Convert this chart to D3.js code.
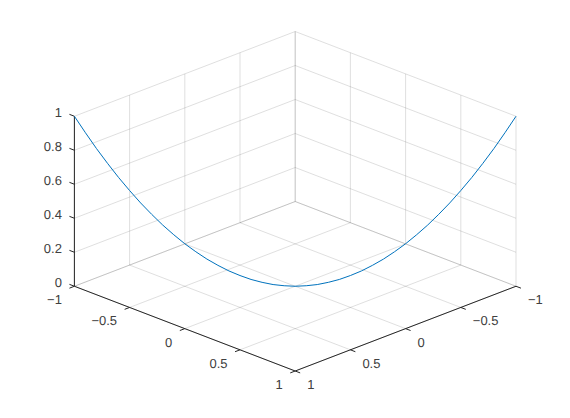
<!DOCTYPE html>
<html>
<head>
<meta charset="utf-8">
<script src="https://cdn.jsdelivr.net/npm/d3@7"></script>
<style>
html,body{margin:0;padding:0;background:#fff;}
svg{display:block;}
text{font-family:"Liberation Sans",Arial,sans-serif;font-size:13px;fill:#404040;text-rendering:geometricPrecision;}
</style>
</head>
<body>
<svg id="chart" width="570" height="418"></svg>
<script>
// Data
const floorTicks = [-1, -0.5, 0, 0.5, 1];
const zTicks = [0, 0.2, 0.4, 0.6, 0.8, 1];
const curveA = [-1,-0.95,-0.9,-0.85,-0.8,-0.75,-0.7,-0.65,-0.6,-0.55,-0.5,-0.45,-0.4,-0.35,-0.3,-0.25,-0.2,-0.15,-0.1,-0.05,0,0.05,0.1,0.15,0.2,0.25,0.3,0.35,0.4,0.45,0.5,0.55,0.6,0.65,0.7,0.75,0.8,0.85,0.9,0.95,1];
const curveB = [1,0.95,0.9,0.85,0.8,0.75,0.7,0.65,0.6,0.55,0.5,0.45,0.4,0.35,0.3,0.25,0.2,0.15,0.1,0.05,0,-0.05,-0.1,-0.15,-0.2,-0.25,-0.3,-0.35,-0.4,-0.45,-0.5,-0.55,-0.6,-0.65,-0.7,-0.75,-0.8,-0.85,-0.9,-0.95,-1];
const curveZ = [1,0.903,0.81,0.723,0.64,0.563,0.49,0.423,0.36,0.303,0.25,0.203,0.16,0.123,0.09,0.063,0.04,0.023,0.01,0.003,0,0.003,0.01,0.023,0.04,0.063,0.09,0.123,0.16,0.203,0.25,0.303,0.36,0.423,0.49,0.563,0.64,0.723,0.81,0.903,1];

const svg = d3.select("#chart");
// Isometric view: a runs along the front-left edge, b along the front-right edge
const sx = d3.scaleLinear().domain([-2, 2]).range([74.4, 516]);
const sy = d3.scaleLinear().domain([-2, 2]).range([201.5, 371]);
const sz = d3.scaleLinear().domain([0, 1]).range([0, -170]);
const px = (a, b) => sx(a - b);
const py = (a, b, z) => sy(a + b) + sz(z);

const gridColor = "rgba(38,38,38,0.15)";
const axisColor = "#262626";
const g = svg.append("g");
function seg(a1, b1, z1, a2, b2, z2, color) {
  g.append("line")
    .attr("x1", px(a1, b1)).attr("y1", py(a1, b1, z1))
    .attr("x2", px(a2, b2)).attr("y2", py(a2, b2, z2))
    .attr("stroke", color).attr("stroke-width", 1);
}
// floor grid
floorTicks.forEach(t => {
  seg(t, -1, 0, t, 1, 0, gridColor);
  seg(-1, t, 0, 1, t, 0, gridColor);
});
// back walls
floorTicks.forEach(t => {
  seg(t, -1, 0, t, -1, 1, gridColor);
  seg(-1, t, 0, -1, t, 1, gridColor);
});
zTicks.forEach(z => {
  seg(-1, -1, z, 1, -1, z, gridColor);
  seg(-1, -1, z, -1, 1, z, gridColor);
});
// axes
seg(-1, 1, 0, 1, 1, 0, axisColor);
seg(1, -1, 0, 1, 1, 0, axisColor);
seg(-1, 1, 0, -1, 1, 1, axisColor);
// ticks: extended outward along the crossing grid direction
const tl = 0.045;
floorTicks.forEach(t => {
  seg(t, 1, 0, t, 1 + tl, 0, axisColor);
  seg(1, t, 0, 1 + tl, t, 0, axisColor);
});
zTicks.forEach(z => seg(-1, 1, z, -1 - tl, 1, z, axisColor));

// curve
const line = d3.line().x((d, i) => px(curveA[i], curveB[i])).y((d, i) => py(curveA[i], curveB[i], curveZ[i]));
g.append("path").datum(curveZ).attr("d", line).attr("fill", "none").attr("stroke", "#0072bd").attr("stroke-width", 1);

// labels
const fmt = v => String(v).replace("-", "\u2212");
zTicks.forEach(z => {
  g.append("text").attr("x", px(-1, 1) - 12.5).attr("y", py(-1, 1, z) - 3 + 4).attr("text-anchor", "end").text(fmt(z));
});
floorTicks.forEach(t => {
  g.append("text").attr("x", px(t, 1) - 12.5).attr("y", py(t, 1, 0) + 14 + 4).attr("text-anchor", "end").text(fmt(t));
  g.append("text").attr("x", px(1, t) + 12).attr("y", py(1, t, 0) + 14 + 4).attr("text-anchor", "start").text(fmt(t));
});
</script>
</body>
</html>
